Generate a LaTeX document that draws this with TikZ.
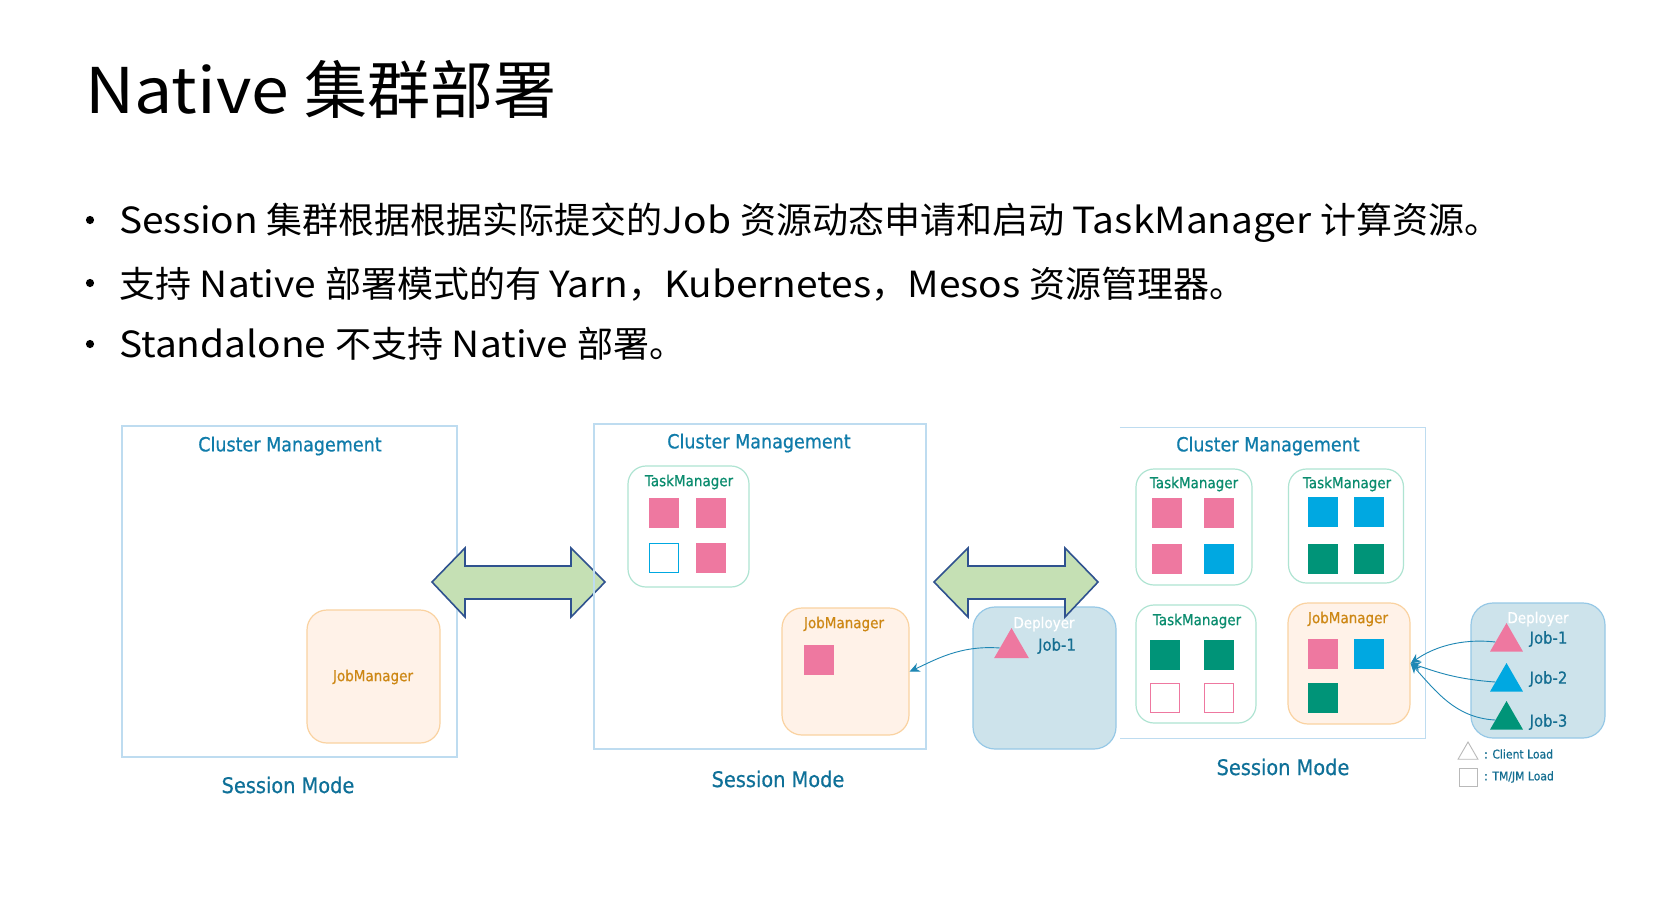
\documentclass[tikz,border=0pt]{standalone}
\usepackage{fontspec}
\setmainfont{Noto Sans CJK SC}
\newfontfamily\lat[FakeStretch=1.08]{Noto Sans CJK SC}
\newfontfamily\dv[FakeStretch=0.9,FakeBold=0.6]{DejaVu Sans}
\usetikzlibrary{arrows.meta,shapes.geometric}
\definecolor{cmtext}{RGB}{16,124,170}
\definecolor{sesstext}{RGB}{14,112,152}
\definecolor{tmtext}{RGB}{10,140,110}
\definecolor{jmtext}{RGB}{205,135,20}
\definecolor{jobtext}{RGB}{20,110,145}
\definecolor{cmborder}{RGB}{190,220,240}
\definecolor{tmborder}{RGB}{175,228,210}
\definecolor{jmborder}{RGB}{250,210,160}
\definecolor{jmfill}{RGB}{255,242,232}
\definecolor{depborder}{RGB}{150,200,230}
\definecolor{depfill}{RGB}{205,227,235}
\definecolor{pinksq}{RGB}{238,120,160}
\definecolor{bluesq}{RGB}{0,168,225}
\definecolor{greensq}{RGB}{0,148,120}
\definecolor{arrfill}{RGB}{197,224,180}
\definecolor{arrdraw}{RGB}{47,82,143}
\definecolor{conn}{RGB}{30,135,180}
\definecolor{legend}{RGB}{185,185,185}
\tikzset{
  cmbox/.style={draw=cmborder, line width=1.2pt, inner sep=0pt},
  tmbox/.style={draw=tmborder, fill=white, line width=1.2pt, rounded corners=18pt, inner sep=0pt},
  jmbox/.style={draw=jmborder, fill=jmfill, line width=1.2pt, rounded corners=20pt, inner sep=0pt},
  depbox/.style={draw=depborder, fill=depfill, line width=1.2pt, rounded corners=22pt, inner sep=0pt},
  sqr/.style={minimum size=30pt, inner sep=0pt},
  emptysq/.style={minimum size=29pt, inner sep=0pt, fill=white, line width=1pt},
  tri/.style={regular polygon, regular polygon sides=3, inner sep=0pt, minimum size=38pt},
  cmlabel/.style={font=\dv\fontsize{19.5}{20}\selectfont, text=cmtext},
  sesslabel/.style={font=\dv\fontsize{21.5}{22}\selectfont, text=sesstext},
  tmlabel/.style={font=\dv\fontsize{15}{16}\selectfont, text=tmtext},
  jmlabel/.style={font=\dv\fontsize{15}{16}\selectfont, text=jmtext},
  deplabel/.style={font=\dv\fontsize{15}{16}\selectfont, text=white},
  joblabel/.style={font=\dv\fontsize{16.5}{17}\selectfont, text=jobtext},
  leglabel/.style={font=\dv\fontsize{12}{13}\selectfont, text=jobtext, anchor=west, inner sep=0pt},
  bigarrow/.style={fill=arrfill, draw=arrdraw, line width=1.6pt, line join=miter},
  conncurve/.style={draw=conn, line width=0.9pt, -{Stealth[length=10pt,width=9pt]}},
  bullettext/.style={anchor=base west, inner sep=0pt, font=\fontsize{36}{36}\selectfont},
}
\begin{document}
\begin{tikzpicture}[x=1pt,y=-1pt]
\useasboundingbox[fill=white] (0,0) rectangle (1676,900);

% title and bullets
\node[anchor=base west, inner sep=0pt, font=\fontsize{63}{63}\selectfont] (title) at (85,113) {{\lat Native }集群部署};
\fill (90,220) circle (4.1pt);
\node[bullettext] (b1) at (119,233) {{\lat Session }集群根据根据实际提交的{\lat Job }资源动态申请和启动{\lat\ TaskManager }计算资源。};
\fill (90,283) circle (4.1pt);
\node[bullettext] (b2) at (119,297) {支持{\lat\ Native }部署模式的有{\lat\ Yarn}，{\lat Kubernetes}，{\lat Mesos }资源管理器。};
\fill (90,344) circle (4.1pt);
\node[bullettext] (b3) at (119,357) {{\lat Standalone }不支持{\lat\ Native }部署。};

% ---------- panel 1 ----------
\node[cmbox, minimum width=335pt, minimum height=331pt] (cm1) at (289.5,591.5) {};
\node[cmlabel] (cm1t) at (290,446) {Cluster Management};
\node[jmbox, minimum width=133pt, minimum height=133pt] (jm1) at (373.5,676.5) {};
\node[jmlabel] (jm1t) at (373,677) {JobManager};
\node[sesslabel] (s1) at (288,785) {Session Mode};

% arrow 1
\draw[bigarrow] (432,582) -- (465,548) -- (465,566) -- (571,566) -- (571,548) -- (605,582)
  -- (571,617) -- (571,599) -- (465,599) -- (465,617) -- cycle;

% ---------- panel 2 ----------
\node[cmbox, minimum width=332pt, minimum height=325pt] (cm2) at (760,586.5) {};
\node[cmlabel] (cm2t) at (759,443) {Cluster Management};
\node[tmbox, minimum width=121pt, minimum height=121pt] (tm21) at (688.5,526.5) {};
\node[tmlabel] (tm21t) at (689,482) {TaskManager};
\node[sqr, fill=pinksq] (q211) at (664,512.5) {};
\node[sqr, fill=pinksq] (q212) at (710.5,512.5) {};
\node[emptysq, draw=bluesq] (q213) at (664,558) {};
\node[sqr, fill=pinksq] (q214) at (710.5,558) {};
\node[jmbox, minimum width=127pt, minimum height=127pt] (jm2) at (845.5,671.5) {};
\node[jmlabel] (jm2t) at (844,624) {JobManager};
\node[sqr, fill=pinksq] (q221) at (818.5,660) {};
\node[sesslabel] (s2) at (778,779) {Session Mode};

% deployer 2
\node[depbox, minimum width=143pt, minimum height=142pt] (dep2) at (1044.5,678) {};
\node[deplabel] (dep2t) at (1044,624) {Deployer};
\node[tri, fill=pinksq, minimum size=40pt] (t21) at (1011.5,648) {};
\node[joblabel] (j21) at (1057,646) {Job-1};
\draw[conncurve] (t21.west) .. controls (960,645) and (935,660) .. (jm2.east);

% arrow 2 (over the deployer)
\draw[bigarrow] (934,582) -- (968,548) -- (968,566) -- (1065,566) -- (1065,548) -- (1098,582)
  -- (1065,617) -- (1065,599) -- (968,599) -- (968,617) -- cycle;

% ---------- panel 3 ----------
\node[minimum width=305.5pt, minimum height=310pt, inner sep=0pt] (cm3) at (1272.75,583) {};
\draw[draw=cmborder, line width=1.2pt] (cm3.north west) -- (cm3.north east) -- (cm3.south east) -- (cm3.south west);
\node[cmlabel] (cm3t) at (1268,446) {Cluster Management};

\node[tmbox, minimum width=116pt, minimum height=116pt] (tm31) at (1194,527) {};
\node[tmlabel] (tm31t) at (1194,484) {TaskManager};
\node[sqr, fill=pinksq] (q311) at (1166.5,512.5) {};
\node[sqr, fill=pinksq] (q312) at (1219,512.5) {};
\node[sqr, fill=pinksq] (q313) at (1166.5,559) {};
\node[sqr, fill=bluesq] (q314) at (1219,559) {};

\node[tmbox, minimum width=115pt, minimum height=114pt] (tm32) at (1346,526) {};
\node[tmlabel] (tm32t) at (1347,484) {TaskManager};
\node[sqr, fill=bluesq] (q321) at (1323,511.5) {};
\node[sqr, fill=bluesq] (q322) at (1368.5,511.5) {};
\node[sqr, fill=greensq] (q323) at (1323,558.5) {};
\node[sqr, fill=greensq] (q324) at (1368.5,558.5) {};

\node[tmbox, minimum width=120pt, minimum height=118pt] (tm33) at (1196,664) {};
\node[tmlabel] (tm33t) at (1197,621) {TaskManager};
\node[sqr, fill=greensq] (q331) at (1165,654.5) {};
\node[sqr, fill=greensq] (q332) at (1219,654.5) {};
\node[emptysq, draw=pinksq] (q333) at (1165,697.5) {};
\node[emptysq, draw=pinksq] (q334) at (1219,697.5) {};

\node[jmbox, minimum width=122pt, minimum height=121pt] (jm3) at (1349,663.5) {};
\node[jmlabel] (jm3t) at (1348,619) {JobManager};
\node[sqr, fill=pinksq] (q341) at (1323,653.5) {};
\node[sqr, fill=bluesq] (q342) at (1368.5,653.5) {};
\node[sqr, fill=greensq] (q343) at (1323,698) {};

\node[sesslabel] (s3) at (1283,767) {Session Mode};

% deployer 3
\node[depbox, minimum width=134pt, minimum height=135pt] (dep3) at (1538,670.5) {};
\node[deplabel] (dep3t) at (1538,619) {Deployer};
\node[tri, fill=pinksq] (t31) at (1506.5,642) {};
\node[tri, fill=bluesq] (t32) at (1506.5,682) {};
\node[tri, fill=greensq] (t33) at (1506.5,720) {};
\node[joblabel] (j31) at (1548.5,639) {Job-1};
\node[joblabel] (j32) at (1548.5,679) {Job-2};
\node[joblabel] (j33) at (1548.5,722) {Job-3};
\draw[conncurve] (t31.west) .. controls (1460,638) and (1432,648) .. (jm3.east);
\draw[conncurve] (t32.west) .. controls (1452,679) and (1432,670) .. (jm3.east);
\draw[conncurve] (t33.west) .. controls (1455,718) and (1435,690) .. (jm3.east);

% legend
\node[tri, draw=legend, fill=white, line width=0.9pt, minimum size=23pt] (lt) at (1468,753.5) {};
\node[leglabel] (ltt) at (1484,754) {: Client Load};
\node[draw=legend, fill=white, line width=0.9pt, minimum size=18pt, inner sep=0pt] (ls) at (1468.5,777) {};
\node[leglabel] (lst) at (1484,777) {: TM/JM Load};
\end{tikzpicture}
\end{document}
